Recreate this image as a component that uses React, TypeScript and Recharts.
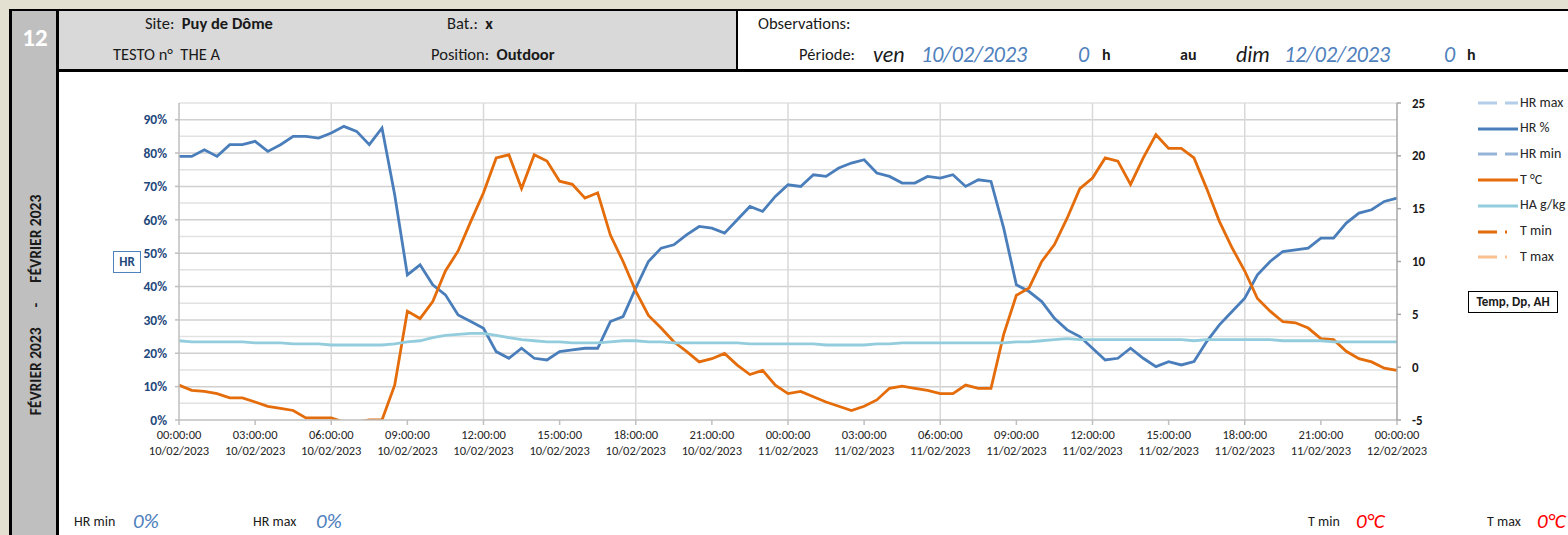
import { LineChart, Line, XAxis, YAxis, ReferenceLine } from "recharts";

// hours since 10/02/2023 00:00
const hours = [
  0, 0.5, 1, 1.5, 2, 2.5, 3, 3.5, 4, 4.5, 5, 5.5, 6, 6.5, 7, 7.5, 8,
  8.5, 9, 9.5, 10, 10.5, 11, 11.5, 12, 12.5, 13, 13.5, 14, 14.5, 15, 15.5, 16,
  16.5, 17, 17.5, 18, 18.5, 19, 19.5, 20, 20.5, 21, 21.5, 22, 22.5, 23, 23.5, 24,
  24.5, 25, 25.5, 26, 26.5, 27, 27.5, 28, 28.5, 29, 29.5, 30, 30.5, 31, 31.5, 32,
  32.5, 33, 33.5, 34, 34.5, 35, 35.5, 36, 36.5, 37, 37.5, 38, 38.5, 39, 39.5, 40,
  40.5, 41, 41.5, 42, 42.5, 43, 43.5, 44, 44.5, 45, 45.5, 46, 46.5, 47, 47.5, 48,
];

const hrPct = [
  79, 79, 81, 79, 82.5, 82.5, 83.5, 80.5, 82.5, 85, 85, 84.5, 86, 88, 86.5, 82.5, 87.5,
  67.5, 43.5, 46.5, 40.5, 37.5, 31.5, 29.5, 27.5, 20.5, 18.5, 21.5, 18.5, 18, 20.5, 21, 21.5,
  21.5, 29.5, 31, 39.5, 47.5, 51.5, 52.5, 55.5, 58, 57.5, 56, 60, 64, 62.5, 67, 70.5,
  70, 73.5, 73, 75.5, 77, 78, 74, 73, 71, 71, 73, 72.5, 73.5, 70, 72, 71.5,
  57.5, 40.5, 38.5, 35.5, 30.5, 27, 25, 21.5, 18, 18.5, 21.5, 18.5, 16, 17.5, 16.5, 17.5,
  23.5, 28.5, 32.5, 36.5, 43.5, 47.5, 50.5, 51, 51.5, 54.5, 54.5, 59, 62, 63, 65.5, 66.5,
];

const tempC = [
  -1.7, -2.2, -2.3, -2.5, -2.9, -2.9, -3.3, -3.7, -3.9, -4.1, -4.8, -4.8, -4.8, -5.2, -5.2, -5.0, -5.0,
  -1.7, 5.3, 4.6, 6.2, 9.1, 11.0, 13.8, 16.5, 19.8, 20.1, 16.9, 20.1, 19.5, 17.6, 17.3, 16.0,
  16.5, 12.5, 10.0, 7.2, 4.9, 3.7, 2.4, 1.5, 0.5, 0.8, 1.3, 0.2, -0.7, -0.3, -1.7, -2.5,
  -2.3, -2.8, -3.3, -3.7, -4.1, -3.7, -3.1, -2.0, -1.8, -2.0, -2.2, -2.5, -2.5, -1.7, -2.0, -2.0,
  3.1, 6.8, 7.5, 10.0, 11.6, 14.1, 16.9, 17.9, 19.8, 19.5, 17.3, 19.8, 22.0, 20.7, 20.7, 19.8,
  16.9, 13.8, 11.3, 9.1, 6.5, 5.3, 4.3, 4.2, 3.7, 2.7, 2.6, 1.5, 0.8, 0.5, -0.1, -0.3,
];

const haGkg = [
  2.5, 2.4, 2.4, 2.4, 2.4, 2.4, 2.3, 2.3, 2.3, 2.2, 2.2, 2.2, 2.1, 2.1, 2.1, 2.1, 2.1,
  2.2, 2.4, 2.5, 2.8, 3.0, 3.1, 3.2, 3.2, 3.0, 2.8, 2.6, 2.5, 2.4, 2.4, 2.3, 2.3,
  2.3, 2.4, 2.5, 2.5, 2.4, 2.4, 2.3, 2.3, 2.3, 2.3, 2.3, 2.3, 2.2, 2.2, 2.2, 2.2,
  2.2, 2.2, 2.1, 2.1, 2.1, 2.1, 2.2, 2.2, 2.3, 2.3, 2.3, 2.3, 2.3, 2.3, 2.3, 2.3,
  2.3, 2.4, 2.4, 2.5, 2.6, 2.7, 2.6, 2.6, 2.6, 2.6, 2.6, 2.6, 2.6, 2.6, 2.6, 2.5,
  2.6, 2.6, 2.6, 2.6, 2.6, 2.6, 2.5, 2.5, 2.5, 2.5, 2.4, 2.4, 2.4, 2.4, 2.4, 2.4,
];

const xTicks = [0, 3, 6, 9, 12, 15, 18, 21, 24, 27, 30, 33, 36, 39, 42, 45, 48];
const xTickTimes = [
  "00:00:00", "03:00:00", "06:00:00", "09:00:00", "12:00:00", "15:00:00", "18:00:00", "21:00:00",
  "00:00:00", "03:00:00", "06:00:00", "09:00:00", "12:00:00", "15:00:00", "18:00:00", "21:00:00",
  "00:00:00",
];
const xTickDates = [
  "10/02/2023", "10/02/2023", "10/02/2023", "10/02/2023", "10/02/2023", "10/02/2023", "10/02/2023", "10/02/2023",
  "11/02/2023", "11/02/2023", "11/02/2023", "11/02/2023", "11/02/2023", "11/02/2023", "11/02/2023", "11/02/2023",
  "12/02/2023",
];
const vGridHours = [6, 12, 18, 24, 30, 36, 42];
const hrGrid = [5, 10, 15, 20, 25, 30, 35, 40, 45, 50, 55, 60, 65, 70, 75, 80, 85, 90, 95];
const hrTicks = [0, 10, 20, 30, 40, 50, 60, 70, 80, 90];
const tTicks = [-5, 0, 5, 10, 15, 20, 25];

const legendNames = ["HR max", "HR %", "HR min", "T °C", "HA g/kg", "T min", "T max"];

const data = hours.map((h, i) => ({ h, hr: hrPct[i], t: tempC[i], ha: haGkg[i] }));

const FONT = "Carlito, Calibri, 'Open Sans', sans-serif";
const BLUE = "#4a7ebb";
const ORANGE = "#e46c0a";
const CYAN = "#93cddd";
const DATE_BLUE = "#4f81bd";

const legendStyles = [
  { stroke: "#b4cde9", dash: "19 8" },
  { stroke: BLUE, dash: undefined },
  { stroke: "#95b3d7", dash: "19 8" },
  { stroke: ORANGE, dash: undefined },
  { stroke: CYAN, dash: undefined },
  { stroke: ORANGE, dash: "19 8 2 12" },
  { stroke: "#fac090", dash: "19 8 2 12" },
];

const XTick = (props: any) => {
  const { x, y, payload } = props;
  const i = xTicks.indexOf(payload.value);
  return (
    <text x={x} y={y} textAnchor="middle" fontSize={12.5} fill="#262626" fontFamily={FONT}>
      <tspan x={x} dy={12}>{xTickTimes[i]}</tspan>
      <tspan x={x} dy={16}>{xTickDates[i]}</tspan>
    </text>
  );
};

const abs = (left: number, top: number, extra: any = {}) => ({
  position: "absolute" as const,
  left,
  top,
  whiteSpace: "nowrap" as const,
  lineHeight: 1.2,
  ...extra,
});

export default function App() {
  return (
    <div
      style={{
        position: "relative",
        width: 1568,
        height: 535,
        background: "#ffffff",
        overflow: "hidden",
        fontFamily: FONT,
        color: "#1a1a1a",
      }}
    >
      <style>{`body{margin:0}`}</style>
      {/* frame */}
      <div style={abs(0, 0, { width: 1568, height: 9, background: "#e4e0d1" })} />
      <div style={abs(0, 0, { width: 9, height: 535, background: "#e4e0d1" })} />
      <div style={abs(9, 9, { width: 1559, height: 2, background: "#000" })} />
      <div style={abs(9, 9, { width: 3, height: 526, background: "#000" })} />
      <div style={abs(12, 11, { width: 44, height: 524, background: "#bfbfbf" })} />
      <div style={abs(56, 9, { width: 3, height: 526, background: "#000" })} />
      <div style={abs(59, 11, { width: 677, height: 58, background: "#d9d9d9" })} />
      <div style={abs(736, 9, { width: 2, height: 62, background: "#000" })} />
      <div style={abs(59, 69, { width: 1509, height: 3, background: "#000" })} />

      <div style={abs(35, 38, { transform: "translate(-50%,-50%)", color: "#fff", fontWeight: 700, fontSize: 25 })}>12</div>
      <div
        style={abs(36, 305, {
          transform: "translate(-50%,-50%) rotate(-90deg)",
          fontWeight: 700,
          fontSize: 15.5,
          display: "flex",
          alignItems: "center",
          gap: 20,
        })}
      >
        <span>FÉVRIER 2023</span>
        <span>-</span>
        <span>FÉVRIER 2023</span>
      </div>

      {/* header */}
      <div style={abs(145, 14, { fontSize: 16.5 })}>
        Site:&nbsp; <b>Puy de Dôme</b>
      </div>
      <div style={abs(447, 14, { fontSize: 16.5 })}>
        Bat.:&nbsp; <b>x</b>
      </div>
      <div style={abs(113, 45, { fontSize: 16.5 })}>TESTO n°&nbsp; THE A</div>
      <div style={abs(431, 45, { fontSize: 16.5 })}>
        Position:&nbsp; <b>Outdoor</b>
      </div>
      <div style={abs(758, 14, { fontSize: 16.5 })}>Observations:</div>
      <div style={abs(855, 45, { fontSize: 16.5, transform: "translateX(-100%)" })}>Période:</div>
      <div style={abs(873, 42, { fontSize: 22, fontStyle: "italic" })}>ven</div>
      <div style={abs(921, 42, { fontSize: 22, fontStyle: "italic", color: DATE_BLUE })}>10/02/2023</div>
      <div style={abs(1078, 42, { fontSize: 22, fontStyle: "italic", color: DATE_BLUE })}>0</div>
      <div style={abs(1102, 45, { fontSize: 16, fontWeight: 700 })}>h</div>
      <div style={abs(1180, 45, { fontSize: 16, fontWeight: 700 })}>au</div>
      <div style={abs(1236, 42, { fontSize: 22, fontStyle: "italic" })}>dim</div>
      <div style={abs(1284, 42, { fontSize: 22, fontStyle: "italic", color: DATE_BLUE })}>12/02/2023</div>
      <div style={abs(1444, 42, { fontSize: 22, fontStyle: "italic", color: DATE_BLUE })}>0</div>
      <div style={abs(1467, 45, { fontSize: 16, fontWeight: 700 })}>h</div>

      {/* chart */}
      <div style={abs(58, 72)}>
        <LineChart width={1410} height={400} data={data} margin={{ top: 31, right: 21, bottom: 12, left: 0 }}>
          <XAxis
            dataKey="h"
            type="number"
            domain={[0, 48]}
            ticks={xTicks}
            tick={<XTick />}
            tickSize={5}
            tickMargin={2}
            height={40}
            stroke="#bfbfbf"
            strokeWidth={1.5}
            interval={0}
          />
          <YAxis
            yAxisId="left"
            domain={[0, 95]}
            ticks={hrTicks}
            width={121}
            tickSize={4}
            tickMargin={8}
            tickFormatter={(v) => `${v}%`}
            tick={{ fontSize: 13.5, fontWeight: 700, fill: "#1f497d", fontFamily: FONT }}
            stroke="#bfbfbf"
            strokeWidth={1.5}
            interval={0}
          />
          <YAxis
            yAxisId="right"
            orientation="right"
            domain={[-5, 25]}
            ticks={tTicks}
            allowDataOverflow
            width={50}
            tickSize={4}
            tickMargin={11}
            tick={{ fontSize: 13, fontWeight: 700, fill: "#1a1a1a", fontFamily: FONT, textAnchor: "start" }}
            stroke="#a6a6a6"
            strokeWidth={1.5}
            interval={0}
          />
          {hrGrid.map((v) => (
            <ReferenceLine
              key={`hg${v}`}
              yAxisId="left"
              y={v}
              stroke={v % 10 === 0 ? "#d0d0d0" : "#e2e2e2"}
              strokeWidth={1.5}
            />
          ))}
          {vGridHours.map((v) => (
            <ReferenceLine key={`vg${v}`} yAxisId="left" x={v} stroke="#d9d9d9" strokeWidth={1.5} />
          ))}
          <Line
            yAxisId="left"
            dataKey="hr"
            name="HR %"
            stroke={BLUE}
            strokeWidth={2.8}
            dot={false}
            isAnimationActive={false}
          />
          <Line
            yAxisId="right"
            dataKey="t"
            name="T °C"
            stroke={ORANGE}
            strokeWidth={2.8}
            dot={false}
            isAnimationActive={false}
          />
          <Line
            yAxisId="right"
            dataKey="ha"
            name="HA g/kg"
            stroke={CYAN}
            strokeWidth={2.8}
            dot={false}
            isAnimationActive={false}
          />
        </LineChart>
      </div>

      <div
        style={abs(113, 251, {
          width: 26,
          height: 20,
          border: "1.5px solid #4f81bd",
          fontSize: 13,
          fontWeight: 700,
          color: "#1f497d",
          textAlign: "center",
          lineHeight: "20px",
        })}
      >
        HR
      </div>

      {/* legend */}
      {legendNames.map((name, i) => (
        <div key={name} style={abs(1478, 94 + i * 25.7, { display: "flex", alignItems: "center", height: 18 })}>
          <svg width={41} height={6}>
            <line
              x1={0}
              y1={3}
              x2={40}
              y2={3}
              stroke={legendStyles[i].stroke}
              strokeWidth={2.8}
              strokeDasharray={legendStyles[i].dash}
            />
          </svg>
          <span style={{ fontSize: 14, color: "#262626", marginLeft: 1 }}>{name}</span>
        </div>
      ))}
      <div
        style={abs(1468, 291, {
          width: 88,
          height: 20,
          border: "1.5px solid #000",
          fontSize: 13,
          fontWeight: 700,
          textAlign: "center",
          lineHeight: "20px",
        })}
      >
        Temp, Dp, AH
      </div>

      {/* footer */}
      <div style={abs(74, 514, { fontSize: 14 })}>HR min</div>
      <div style={abs(133, 509, { fontSize: 21, fontStyle: "italic", color: DATE_BLUE })}>0%</div>
      <div style={abs(253, 514, { fontSize: 14 })}>HR max</div>
      <div style={abs(316, 509, { fontSize: 21, fontStyle: "italic", color: DATE_BLUE })}>0%</div>
      <div style={abs(1308, 514, { fontSize: 14 })}>T min</div>
      <div style={abs(1356, 509, { fontSize: 21, fontStyle: "italic", color: "#ff0000" })}>0°C</div>
      <div style={abs(1487, 514, { fontSize: 14 })}>T max</div>
      <div style={abs(1537, 509, { fontSize: 21, fontStyle: "italic", color: "#ff0000" })}>0°C</div>
    </div>
  );
}
